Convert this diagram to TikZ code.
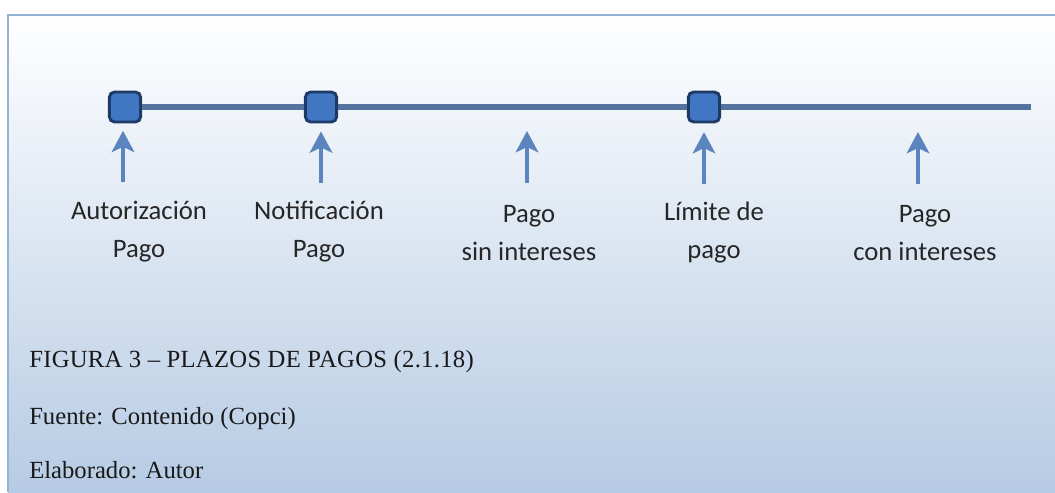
\documentclass[tikz,border=0pt]{standalone}
\usepackage{fontspec}
\setmainfont{Liberation Serif}
\newfontfamily\etiqfont{Carlito}
\newfontfamily\titfont[LetterSpace=1.2]{Liberation Serif}
\usetikzlibrary{arrows.meta}
\definecolor{borde}{RGB}{149,179,215}
\definecolor{fondo}{RGB}{182,203,228}
\definecolor{linea}{RGB}{86,114,158}
\definecolor{hitofill}{RGB}{64,118,194}
\definecolor{hitoline}{RGB}{30,58,102}
\definecolor{flecha}{RGB}{92,132,190}
\tikzset{
  hito/.style={draw=hitoline, line width=2.2pt, fill=hitofill, rounded corners=4pt,
    minimum width=23.5pt, minimum height=22.5pt, inner sep=0pt},
  etiqueta/.style={font=\etiqfont\fontsize{20}{28.5}\selectfont, align=center, text=black!85},
  subida/.style={draw=flecha, line width=2.6pt, -{Stealth[length=16pt,width=17pt,inset=4pt]}},
  pie/.style={font=\fontsize{18.5}{22}\selectfont, anchor=base west, text=black!90, inner sep=0pt}
}
\begin{document}
\begin{tikzpicture}[x=0.75pt,y=-0.75pt]
  \useasboundingbox (0,0) rectangle (1055,492);
  \fill[white] (0,0) rectangle (1055,492);
  \shade[top color=white, bottom color=fondo] (8,15) rectangle (1055,492);
  \draw[borde, line width=2pt] (8,492) -- (8,15) -- (1055,15);

  \node[hito] (s1) at (125,107) {};
  \node[hito] (s2) at (321,107) {};
  \node[hito] (s3) at (704,107) {};
  \coordinate (fin) at (1031,107);
  \draw[linea, line width=3.9pt] (s1) -- (s2) -- (s3) -- (fin);

  \coordinate (b1) at (123,182);
  \coordinate (b2) at (321,183);
  \coordinate (b3) at (527,183);
  \coordinate (b4) at (704,184);
  \coordinate (b5) at (918,184);
  \coordinate (p3) at (527,131);
  \coordinate (p5) at (918,132);
  \begin{scope}[subida]
    \draw[shorten >=5.5pt] (b1) to (s1.south -| b1);
    \draw[shorten >=6pt] (b2) to (s2);
    \draw (b3) to (p3);
    \draw[shorten >=6.5pt] (b4) to (s3);
    \draw (b5) to (p5);
  \end{scope}

  \node[etiqueta] (e1) at (139,232) {Autorización\\Pago};
  \node[etiqueta] (e2) at (319,232) {Notificación\\Pago};
  \node[etiqueta] (e3) at (529,233) {Pago\\sin intereses};
  \node[etiqueta] (e4) at (714,233) {Límite de\\pago};
  \node[etiqueta] (e5) at (925,233) {Pago\\con intereses};

  \node[pie] (t1) at (29,367) {\titfont FIGURA 3 – PLAZOS DE PAGOS (2.1.18)};
  \node[pie] (t2) at (29,424) {Fuente: Contenido (Copci)};
  \node[pie] (t3) at (29,478) {Elaborado: Autor};
\end{tikzpicture}
\end{document}
